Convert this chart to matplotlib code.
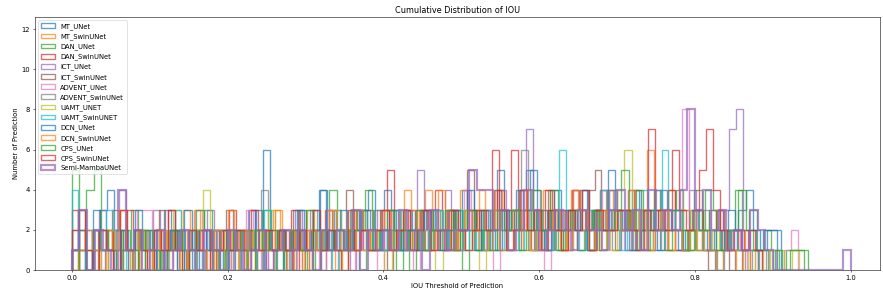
import numpy as np
import matplotlib
matplotlib.use("Agg")
import matplotlib.pyplot as plt

# method names (legend order)
methods = ["MT_UNet", "MT_SwinUNet", "DAN_UNet", "DAN_SwinUNet", "ICT_UNet",
           "ICT_SwinUNet", "ADVENT_UNet", "ADVENT_SwinUNet", "UAMT_UNET",
           "UAMT_SwinUNET", "DCN_UNet", "DCN_SwinUNet", "CPS_UNet",
           "CPS_SwinUNet", "Semi-MambaUNet"]

# upper end of the IOU range of each method (100 bins from 0 to it)
iou_max = [0.91, 0.89, 0.945, 0.88, 0.87, 0.86, 0.932, 0.90, 0.933, 0.88,
           0.905, 0.87, 0.94, 0.885, 1.0]

# number of predictions per bin
mt_unet = [1,0,2,1,3,4,2,1,0,2, 1,2,0,3,1,2,1,0,2,1, 2,1,0,2,1,3,2,6,1,2,
           1,2,3,1,2,4,1,3,2,1, 2,3,1,2,4,1,2,3,1,2, 3,2,1,3,2,4,3,2,1,3,
           5,2,3,4,5,2,3,1,4,2, 3,2,4,1,3,3,2,3,1,4, 2,3,1,4,2,3,1,2,3,1,
           2,3,1,2,3,4,2,1,2,2]
mt_swin = [0,2,1,0,1,2,1,3,1,0, 2,1,1,0,2,1,3,1,2,0, 1,2,1,0,2,1,2,1,2,3,
           1,0,2,1,3,2,1,2,0,1, 2,3,1,2,2,1,3,2,1,2, 3,4,2,1,3,2,4,2,3,1,
           2,4,3,2,3,1,2,3,4,2, 3,2,4,3,2,3,1,4,3,2, 3,2,3,6,3,2,4,2,1,2,
           3,1,2,3,2,1,2,1,1,0]
dan_unet = [5,1,0,2,1,0,2,1,3,0, 1,2,0,1,2,1,0,2,3,1, 0,2,1,1,2,0,3,1,2,1,
            2,1,0,2,1,4,2,1,3,0, 2,3,1,2,0,3,1,2,1,3, 2,1,3,0,2,3,1,2,3,1,
            3,2,1,3,2,4,1,2,3,2, 1,3,2,4,2,3,1,3,2,4, 2,3,4,1,3,2,4,3,1,2,
            4,2,3,1,2,1,0,1,1,1]
dan_swin = [3,1,0,2,1,2,0,1,3,2, 1,0,2,1,3,1,2,0,1,2, 1,2,0,3,1,2,1,0,2,1,
            2,1,3,1,0,2,1,3,2,1, 2,1,3,2,1,3,5,2,1,3, 2,3,1,4,2,3,1,2,3,2,
            3,2,4,3,6,2,3,1,2,4, 2,3,1,4,3,2,3,4,2,3, 3,2,4,2,7,3,2,4,1,3,
            2,3,1,2,3,2,1,2,1,1]
ict_unet = [1,2,0,1,3,1,2,4,1,0, 2,1,3,0,1,2,1,0,2,1, 3,1,2,0,1,2,3,1,0,2,
            1,2,1,3,0,2,1,2,3,1, 2,0,3,1,2,3,1,2,1,3, 2,5,1,3,2,4,3,1,2,3,
            2,3,1,4,2,3,3,7,4,2, 1,3,2,3,4,2,1,3,2,4, 3,2,4,3,1,2,4,3,2,3,
            1,4,2,3,1,2,3,7,8,2]
ict_swin = [0,3,1,2,0,1,3,2,1,0, 2,1,0,3,1,2,0,1,2,1, 0,2,1,3,1,0,2,1,2,0,
            1,2,0,3,1,2,1,0,2,1, 2,4,1,2,3,1,2,0,3,1, 2,1,3,2,1,2,3,1,2,5,
            3,1,2,4,2,3,1,2,3,1, 2,4,3,1,2,3,2,4,5,2, 3,1,2,3,1,2,1,3,2,1,
            1,2,1,2,1,0,1,2,0,1]
advent_unet = [1,0,2,1,0,2,1,0,1,3, 3,1,2,0,1,2,1,3,0,2, 1,0,2,1,3,1,0,2,1,2,
               0,1,2,1,0,3,2,1,0,2, 1,2,0,3,1,2,1,0,2,1, 3,1,2,1,4,2,1,3,0,2,
               1,2,3,1,2,0,3,2,1,2, 3,1,2,4,2,3,1,2,3,1, 2,3,1,2,8,3,2,1,3,2,
               1,2,1,0,1,0,1,0,1,2]
advent_swin = [2,1,0,2,1,1,2,0,1,2, 1,0,2,1,2,0,1,2,1,0, 2,1,1,0,2,1,2,4,1,2,
               1,0,2,1,3,1,2,0,1,2, 3,2,1,2,1,3,2,1,2,3, 1,2,3,2,1,2,3,1,2,2,
               3,1,2,3,6,2,1,3,2,1, 2,3,1,2,3,2,3,1,2,3, 1,2,3,2,1,3,2,1,2,1,
               2,1,0,1,2,1,0,1,0,1]
uamt_unet = [0,2,1,1,0,2,1,0,1,2, 1,0,2,1,3,1,0,2,4,1, 0,2,1,0,1,2,1,3,0,1,
             2,1,0,2,1,1,3,0,2,1, 1,2,1,0,2,3,1,2,1,2, 0,2,1,3,1,2,0,1,3,2,
             1,2,3,1,2,1,3,2,1,3, 2,1,3,2,1,4,6,2,3,1, 2,3,1,2,3,1,2,1,2,1,
             2,1,1,0,1,0,1,1,0,1]
uamt_swin = [4,1,0,2,1,3,2,1,0,2, 1,2,1,0,2,3,1,2,0,1, 2,1,0,2,1,2,1,0,3,1,
             2,0,1,2,1,3,1,2,0,2, 1,2,3,1,2,1,2,3,1,2, 2,1,2,3,1,2,3,1,2,1,
             3,2,1,2,3,1,2,3,2,1, 2,6,3,2,1,3,2,4,2,3, 1,3,2,4,3,2,6,2,3,1,
             2,1,2,1,0,1,2,1,1,1]
dcn_unet = [1,2,0,3,2,1,0,2,1,3, 2,1,0,1,2,0,3,1,2,1, 0,2,1,2,0,1,3,2,1,0,
            2,1,3,1,2,4,1,2,3,1, 2,3,4,1,2,3,1,2,2,1, 3,2,1,2,3,2,4,1,3,2,
            1,3,2,4,3,5,2,1,3,2, 3,2,4,1,3,2,5,3,2,1, 2,3,2,1,3,2,1,2,3,2,
            1,2,1,3,2,1,2,1,2,2]
dcn_swin = [0,1,2,1,0,2,1,3,1,0, 2,1,0,2,1,1,0,2,3,1, 0,2,1,3,1,2,0,1,2,1,
            3,1,2,1,0,2,1,2,3,1, 2,1,3,2,1,2,3,1,2,4, 3,2,1,2,4,3,1,2,3,2,
            4,2,3,1,2,3,2,4,3,1, 2,3,1,2,4,3,2,1,3,2, 3,2,4,2,3,1,2,3,1,2,
            1,2,1,2,1,0,1,1,0,1]
cps_unet = [1,0,4,5,2,1,0,2,1,0, 2,1,0,1,2,0,1,3,2,1, 0,1,2,1,0,2,1,2,0,1,
            2,1,3,0,2,1,2,1,3,2, 4,1,2,3,1,2,0,3,1,2, 2,3,1,2,3,1,2,1,3,2,
            3,1,2,4,2,3,1,2,3,1, 2,3,1,2,3,5,2,4,1,3, 2,1,3,2,1,4,2,3,1,2,
            2,4,2,1,1,0,1,0,1,1]
cps_swin = [2,3,1,0,2,1,0,3,1,2, 1,0,2,1,3,1,0,2,1,2, 0,1,2,1,2,0,3,1,2,1,
            2,1,0,2,1,3,1,2,1,0, 3,1,2,1,2,3,1,2,3,1, 2,3,1,2,1,3,2,1,2,3,
            2,6,3,1,2,4,2,3,1,3, 2,1,3,2,4,1,3,2,2,3, 3,2,1,3,2,3,2,6,3,2,
            3,5,7,4,2,1,2,1,2,1]
semi_mamba = [1,3,0,2,1,0,4,1,2,0, 1,2,0,1,2,1,0,2,1,0, 2,1,0,1,2,0,1,2,1,2,
              1,0,2,1,2,1,3,0,2,1, 2,1,3,1,2,0,3,2,1,2, 2,5,4,4,2,3,1,2,4,3,
              1,2,3,2,1,3,2,2,1,3, 4,2,3,1,4,2,3,2,4,8, 3,4,2,3,1,2,1,3,2,1,
              0,0,0,0,0,0,0,0,0,1]

counts = [mt_unet, mt_swin, dan_unet, dan_swin, ict_unet, ict_swin,
          advent_unet, advent_swin, uamt_unet, uamt_swin, dcn_unet, dcn_swin,
          cps_unet, cps_swin, semi_mamba]

fig, ax = plt.subplots(figsize=(883 / 49, 296 / 49), dpi=49)

for i, name in enumerate(methods):
    edges = np.linspace(0, iou_max[i], 101)
    lw = 3.2 if name == "Semi-MambaUNet" else 2.0
    ax.hist(edges[:-1], bins=edges, weights=counts[i], histtype="step",
            color="C%d" % (i % 10), linewidth=lw, alpha=0.7, label=name)

ax.set_xlim(-0.047, 1.037)
ax.set_ylim(0, 12.6)
ax.set_title("Cumulative Distribution of IOU")
ax.set_xlabel("IOU Threshold of Prediction")
ax.set_ylabel("Number of Prediction")
ax.legend(loc="upper left")

fig.subplots_adjust(left=0.0396, right=0.9966, top=0.9426, bottom=0.0878)
fig.savefig("out.png", dpi=49)
